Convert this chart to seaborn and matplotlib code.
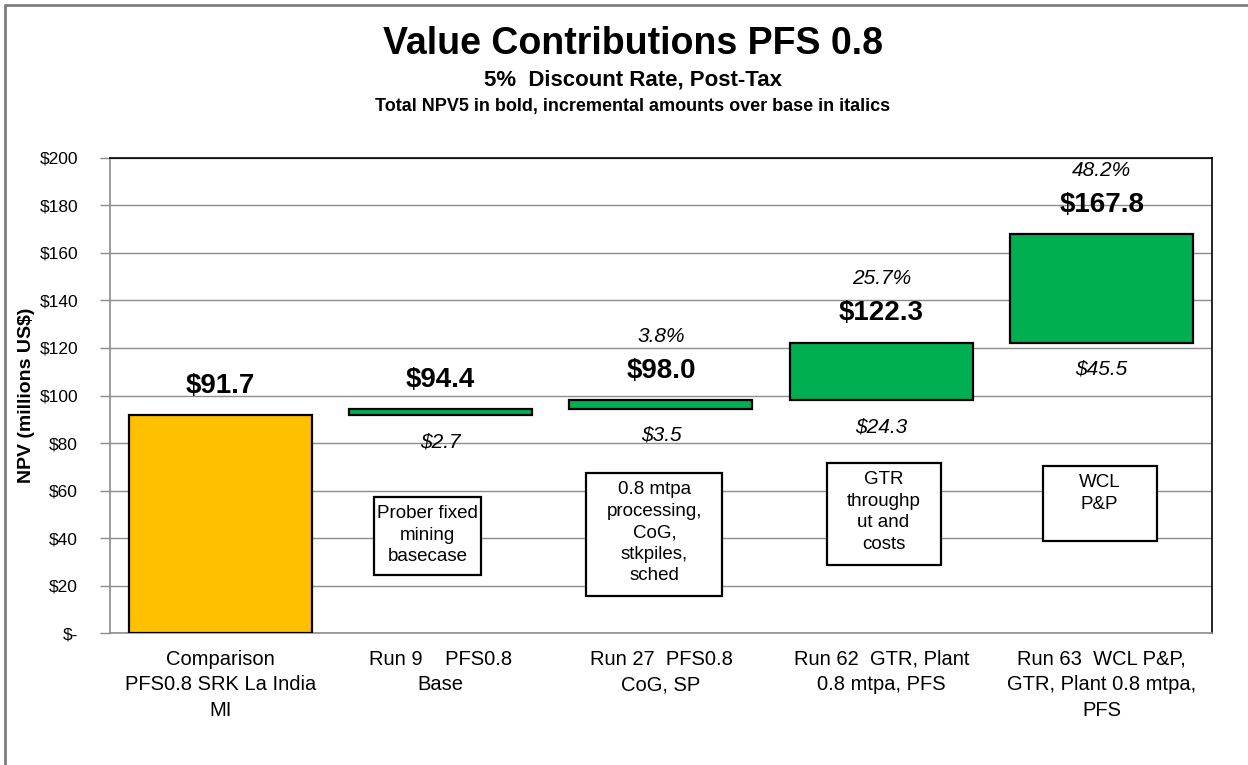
import pandas as pd
import matplotlib.pyplot as plt
import seaborn as sns
from matplotlib.patches import Rectangle
from matplotlib.lines import Line2D

# datos del grafico
categorias = ['Comparison\nPFS0.8 SRK La India\nMI',
              'Run 9    PFS0.8\nBase',
              'Run 27  PFS0.8\nCoG, SP',
              'Run 62  GTR, Plant\n0.8 mtpa, PFS',
              'Run 63  WCL P&P,\nGTR, Plant 0.8 mtpa,\nPFS']
totales = [91.7, 94.4, 98.0, 122.3, 167.8]
incrementos = [None, 2.7, 3.5, 24.3, 45.5]
porcentajes = [None, None, 3.8, 25.7, 48.2]
notas = [None,
         'Prober fixed\nmining\nbasecase',
         '0.8 mtpa\nprocessing,\nCoG,\nstkpiles,\nsched',
         'GTR\nthroughp\nut and\ncosts',
         'WCL\nP&P']
y_ticks = [0, 20, 40, 60, 80, 100, 120, 140, 160, 180, 200]

colores = ['#FFC000', '#00B050', '#00B050', '#00B050', '#00B050']

# cascada: cada barra empieza donde termina la anterior
bases = [0] + totales[:-1]
df = pd.DataFrame({'Run': categorias, 'Base': bases, 'Total': totales})
df['Alto'] = df['Total'] - df['Base']

sns.set_style('white')
plt.rcParams['font.family'] = ['Liberation Sans', 'DejaVu Sans']
plt.rcParams['text.color'] = 'black'
plt.rcParams['axes.labelcolor'] = 'black'
plt.rcParams['xtick.color'] = 'black'
plt.rcParams['ytick.color'] = 'black'

fig = plt.figure(figsize=(12.48, 7.65), dpi=100)
ax = fig.add_axes([0.0881, 0.1725, 0.883, 0.621])

sns.barplot(data=df, x='Run', y='Alto', bottom=df['Base'], color='#00B050',
            width=0.83, errorbar=None, edgecolor='black', linewidth=1.6,
            zorder=3, ax=ax)
for barra, c in zip(ax.patches, colores):
    barra.set_facecolor(c)

ax.set_ylim(0, 200)
ax.set_xlim(-0.5, 4.5)
ax.set_yticks(y_ticks)
ax.set_yticklabels(['$-' if v == 0 else f'${v}' for v in y_ticks], fontsize=12.5)
ax.set_xticks(range(len(categorias)))
ax.set_xticklabels(categorias, fontsize=14.5, linespacing=1.45)
ax.set_xticks([i - 0.5 for i in range(len(categorias) + 1)], minor=True)
ax.tick_params(axis='x', which='major', length=0, pad=12)
ax.tick_params(axis='x', which='minor', length=7, color='#8c8c8c', width=1)
ax.tick_params(axis='y', length=7, color='#8c8c8c', labelcolor='black', width=1,
               pad=16, left=True)
ax.grid(axis='y', color='#8c8c8c', linewidth=1, zorder=0)
ax.set_axisbelow(True)
ax.set_xlabel('')
ax.set_ylabel('NPV (millions US$)', fontsize=14, fontweight='bold', labelpad=3)

for lado in ['top', 'right']:
    ax.spines[lado].set_color('black')
    ax.spines[lado].set_linewidth(1.2)
for lado in ['left', 'bottom']:
    ax.spines[lado].set_color('#8c8c8c')
    ax.spines[lado].set_linewidth(1.2)

# etiquetas: total en negrita, incremento y porcentaje en cursiva
for i, (b, t) in enumerate(zip(bases, totales)):
    ax.annotate(f'${t:.1f}', (i, t), xytext=(0, 21), textcoords='offset points',
                ha='center', va='center', fontsize=20, fontweight='bold')
    if incrementos[i] is not None:
        ax.annotate(f'${incrementos[i]:.1f}', (i, b), xytext=(0, -19),
                    textcoords='offset points', ha='center', va='center',
                    fontsize=15, fontstyle='italic')
    if porcentajes[i] is not None:
        ax.annotate(f'{porcentajes[i]:.1f}%', (i, t), xytext=(0, 46),
                    textcoords='offset points', ha='center', va='center',
                    fontsize=15, fontstyle='italic')

# cajas de texto (centro x, base y, ancho, alto)
cajas = [None, (0.94, 24.4, 0.485, 32.9), (1.97, 15.6, 0.617, 51.8),
         (3.01, 28.6, 0.517, 43.0), (3.99, 38.7, 0.517, 31.6)]
for nota, caja in zip(notas, cajas):
    if nota is None:
        continue
    cx, y0, w, h = caja
    ax.add_patch(Rectangle((cx - w / 2, y0), w, h, facecolor='white',
                           edgecolor='black', linewidth=1.6, zorder=4))
    ax.annotate(nota, (cx, y0 + h), xytext=(0, -6), textcoords='offset points',
                ha='center', va='top', fontsize=13.5, linespacing=1.35, zorder=5)

# titulos
fig.text(0.507, 0.942, 'Value Contributions PFS 0.8', ha='center', va='center',
         fontsize=27, fontweight='bold')
fig.text(0.507, 0.895, '5%  Discount Rate, Post-Tax', ha='center', va='center',
         fontsize=16, fontweight='bold')
fig.text(0.507, 0.861, 'Total NPV5 in bold, incremental amounts over base in italics',
         ha='center', va='center', fontsize=13, fontweight='bold')

# borde gris del grafico
fig.add_artist(Line2D([5 / 1248, 5 / 1248], [0, 1 - 5 / 765], transform=fig.transFigure,
                      color='#7f7f7f', linewidth=2))
fig.add_artist(Line2D([5 / 1248, 1], [1 - 5 / 765, 1 - 5 / 765], transform=fig.transFigure,
                      color='#7f7f7f', linewidth=2))

fig.savefig('out.png', dpi=100)
